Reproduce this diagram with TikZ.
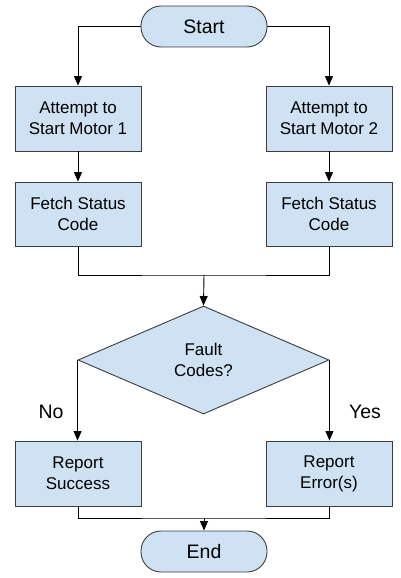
\documentclass[tikz,border=0pt]{standalone}
\usepackage{fontspec}
\setmainfont{Liberation Sans}
\usetikzlibrary{shapes.geometric,arrows.meta}
\definecolor{boxfill}{RGB}{207,226,243}
\definecolor{boxline}{RGB}{60,60,60}
\begin{document}
\begin{tikzpicture}[x=1pt,y=-1pt,
  base/.style={draw=boxline,fill=boxfill,line width=0.9pt,align=center,inner sep=0pt},
  procbox/.style={base,rectangle,minimum width=126pt,minimum height=65pt,font=\fontsize{17}{21}\selectfont},
  termbox/.style={base,rectangle,rounded corners=20pt,minimum width=126pt,minimum height=41pt,font=\fontsize{19.5}{23}\selectfont},
  decbox/.style={base,diamond,minimum width=251pt,minimum height=108pt,font=\fontsize{17}{21}\selectfont},
  lbl/.style={font=\fontsize{19.5}{23}\selectfont,inner sep=0pt},
  conn/.style={draw=black,line width=0.9pt},
  arr/.style={conn,-{Triangle[length=9.5pt,width=8pt]}}
]
\useasboundingbox (0,0) rectangle (400,578);
\node[termbox] (start) at (204,26.5) {Start};
\node[procbox] (a1) at (78,118.5) {Attempt to\\Start Motor 1};
\node[procbox] (a2) at (329,118.5) {Attempt to\\Start Motor 2};
\node[procbox,minimum height=64pt] (f1) at (78,214) {Fetch Status\\Code};
\node[procbox,minimum height=64pt] (f2) at (329,214) {Fetch Status\\Code};
\node[decbox] (dia) at (203.5,360) {Fault\\Codes?};
\node[procbox] (r1) at (78,473.5) {Report\\Success};
\node[procbox] (r2) at (329,473.5) {Report\\Error(s)};
\node[termbox] (end) at (204,551.5) {End};
\node[lbl] (no) at (51,412) {No};
\node[lbl] (yes) at (365,412) {Yes};
\coordinate (m1) at (204,275);
\coordinate (m2) at (204,518);
\draw[arr] (start.west) -| (a1.north);
\draw[arr] (start.east) -| (a2.north);
\draw[arr] (a1) -- (f1);
\draw[arr] (a2) -- (f2);
\draw[conn] (f1.south) |- (m1) -| (f2.south);
\draw[arr] (m1) -- (dia.north);
\draw[arr] (dia.west) -- (dia.west |- r1.north);
\draw[arr] (dia.east) -- (dia.east |- r2.north);
\draw[conn] (r1.south) |- (m2) -| (r2.south);
\draw[arr] (m2) -- (end.north);
\end{tikzpicture}
\end{document}
